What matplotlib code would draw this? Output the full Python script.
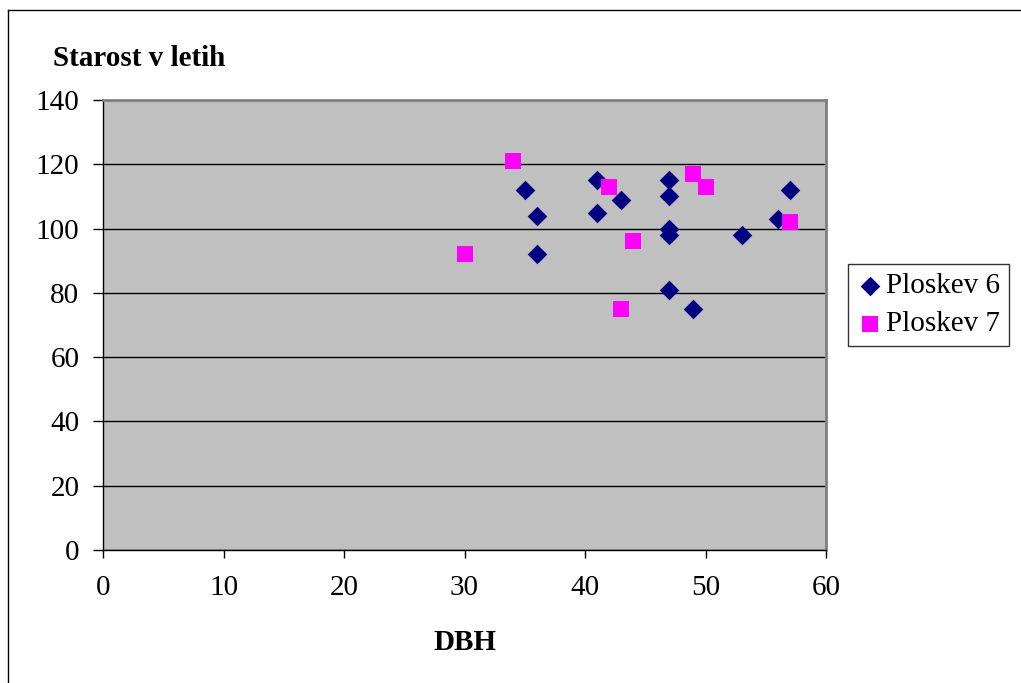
import matplotlib.pyplot as plt
from matplotlib.lines import Line2D

# Ploskev 6 (diamonds)
dbh_6 = [35, 36, 36, 41, 41, 43, 47, 47, 47, 47, 47, 49, 53, 56, 57]
age_6 = [112, 104, 92, 115, 105, 109, 115, 110, 100, 98, 81, 75, 98, 103, 112]

# Ploskev 7 (squares)
dbh_7 = [30, 34, 42, 43, 44, 49, 50, 57]
age_7 = [92, 121, 113, 75, 96, 117, 113, 102]

x_ticks = [0, 10, 20, 30, 40, 50, 60]
y_ticks = [0, 20, 40, 60, 80, 100, 120, 140]

plt.rcParams['font.family'] = ['Liberation Serif', 'DejaVu Serif']

fig = plt.figure(figsize=(10.21, 6.83), dpi=100)
ax = fig.add_axes([103/1021, 1 - 550/683, 723/1021, 450/683])
ax.set_facecolor('#C0C0C0')

ax.scatter(dbh_6, age_6, marker='D', s=10**2, color='#000080', label='Ploskev 6', zorder=3, linewidths=0)
ax.scatter(dbh_7, age_7, marker='s', s=11.5**2, color='#FF00FF', label='Ploskev 7', zorder=3, linewidths=0)

ax.set_xlim(0, 60)
ax.set_ylim(0, 140)
ax.set_xticks(x_ticks)
ax.set_yticks(y_ticks)
ax.yaxis.grid(True, color='black', linewidth=1)
ax.set_axisbelow(True)
ax.tick_params(labelsize=21, direction='out', width=1)
ax.tick_params(axis='y', length=7, pad=10)
ax.tick_params(axis='x', length=6, pad=12)

for s in ['left', 'bottom']:
    ax.spines[s].set_color('black')
    ax.spines[s].set_linewidth(1)
for s in ['top', 'right']:
    ax.spines[s].set_color('#808080')
    ax.spines[s].set_linewidth(2)

fig.text(53/1021, 1 - 58/683, 'Starost v letih', fontsize=21, fontweight='bold', va='center', ha='left')
fig.text(465/1021, 1 - 643/683, 'DBH', fontsize=21, fontweight='bold', va='center', ha='center')

leg = ax.legend(loc='center left', bbox_to_anchor=(848/1021, 1 - 305/683), bbox_transform=fig.transFigure,
                fontsize=21, frameon=True, fancybox=False, edgecolor='black', handletextpad=0.1,
                handlelength=0.9, borderpad=0.3, labelspacing=0.4, borderaxespad=0)
leg.get_frame().set_linewidth(1)

# outer chart border
fig.add_artist(Line2D([8/1021, 8/1021], [0, 1 - 10/683], transform=fig.transFigure, color='black', linewidth=1))
fig.add_artist(Line2D([8/1021, 1], [1 - 10/683, 1 - 10/683], transform=fig.transFigure, color='black', linewidth=1))

fig.savefig('out.png', dpi=100)
